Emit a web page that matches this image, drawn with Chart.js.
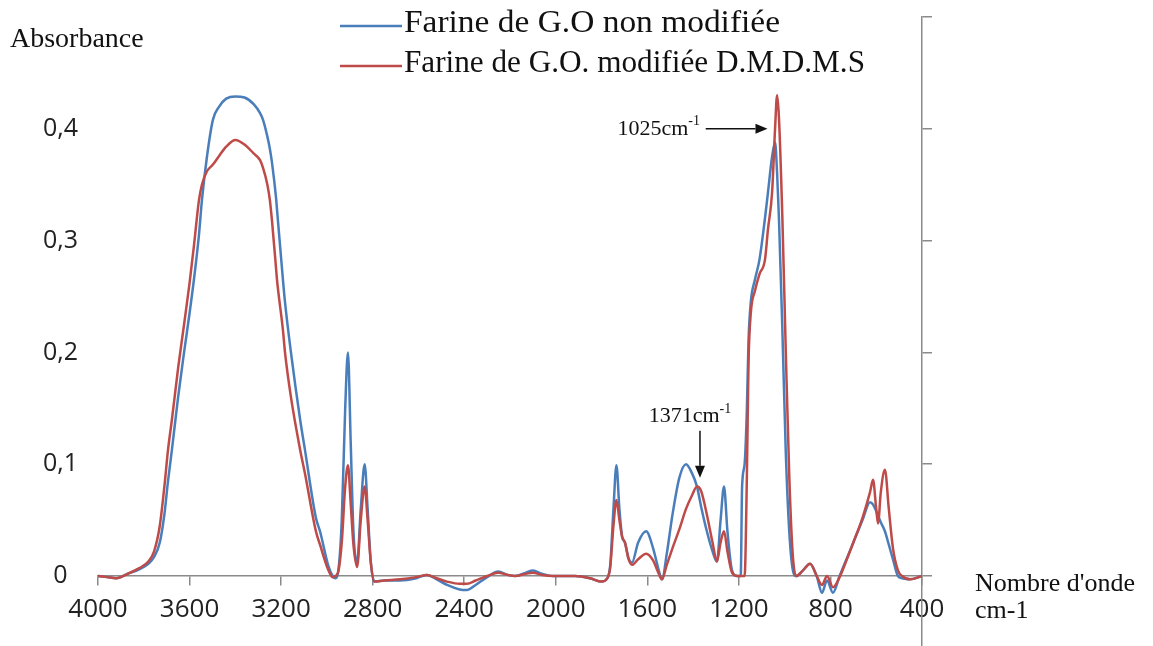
<!DOCTYPE html>
<html><head><meta charset="utf-8">
<script src="https://cdn.jsdelivr.net/npm/chart.js@4/dist/chart.umd.min.js"></script>
<style>html,body{margin:0;padding:0;background:#fff;overflow:hidden}#wrap{width:1153px;height:646px;position:relative}</style>
</head><body><div id="wrap"><canvas id="c" width="1153" height="646"></canvas></div>
<script>
const seriesLabels = ['Farine de G.O non modifiée', 'Farine de G.O. modifiée D.M.D.M.S'];
const seriesColors = ['#4a7ebb', '#be4b48'];
const xTicks = [4000, 3600, 3200, 2800, 2400, 2000, 1600, 1200, 800, 400];
const yTicks = [0, 0.1, 0.2, 0.3, 0.4, 0.5];
const wavenumbers = [4000,3960,3920,3870,3820,3780,3755,3730,3710,3694,3677,3650,3624,3600,3581,3559,3546,3524,3498,3470,3440,3400,3360,3320,3292,3279,3260,3249,3240,3222,3218,3192,3183,3157,3117,3096,3048,3030,2995,2975,2963,2950,2935,2920,2908,2896,2884,2868,2852,2835,2822,2808,2792,2750,2680,2610,2563,2520,2475,2420,2388,2350,2300,2252,2210,2178,2130,2100,2060,2012,1916,1850,1800,1775,1762,1748,1735,1722,1710,1698,1682,1667,1640,1605,1575,1550,1536,1515,1490,1460,1431,1405,1383,1365,1340,1315,1296,1280,1265,1250,1230,1208,1192,1186,1175,1165,1158,1148,1130,1110,1086,1073,1055,1042,1033,1025,1010,995,980,965,950,920,889,860,837,815,789,760,730,700,660,627,614,600,592,580,562,545,527,505,487,452,400];
const absNonModifiee = [0.000,-0.001,-0.002,0.002,0.006,0.011,0.017,0.030,0.055,0.085,0.113,0.160,0.200,0.235,0.265,0.305,0.336,0.375,0.408,0.420,0.427,0.429,0.428,0.422,0.414,0.408,0.393,0.382,0.370,0.338,0.328,0.265,0.245,0.200,0.140,0.113,0.052,0.040,0.010,0.000,-0.002,0.005,0.050,0.150,0.200,0.120,0.040,0.012,0.060,0.100,0.060,0.012,-0.005,-0.004,-0.004,-0.002,0.001,-0.003,-0.008,-0.012,-0.0125,-0.008,-0.001,0.004,0.001,0.000,0.003,0.005,0.002,0.000,0.000,-0.002,-0.005,-0.002,0.010,0.060,0.099,0.060,0.035,0.030,0.016,0.012,0.030,0.040,0.025,0.005,-0.003,0.020,0.055,0.088,0.100,0.092,0.080,0.062,0.040,0.022,0.013,0.050,0.080,0.040,0.005,0.000,0.000,0.080,0.100,0.150,0.210,0.245,0.265,0.283,0.320,0.343,0.375,0.388,0.360,0.320,0.220,0.110,0.040,0.006,0.000,0.005,0.011,0.000,-0.015,-0.004,-0.015,0.000,0.015,0.030,0.050,0.066,0.064,0.058,0.054,0.048,0.040,0.028,0.015,0.000,-0.002,-0.003,0.000];
const absModifiee = [0.000,-0.001,-0.002,0.002,0.007,0.013,0.022,0.045,0.080,0.113,0.140,0.186,0.225,0.262,0.295,0.336,0.350,0.362,0.368,0.376,0.384,0.390,0.386,0.378,0.372,0.365,0.350,0.336,0.318,0.275,0.265,0.220,0.200,0.160,0.113,0.092,0.040,0.028,0.006,-0.001,0.000,0.004,0.030,0.080,0.099,0.065,0.028,0.008,0.050,0.080,0.050,0.012,-0.005,-0.004,-0.003,-0.001,0.001,-0.002,-0.005,-0.007,-0.007,-0.004,0.000,0.003,0.001,0.000,0.002,0.003,0.001,0.000,0.000,-0.002,-0.005,-0.002,0.008,0.045,0.068,0.050,0.035,0.030,0.015,0.010,0.015,0.020,0.014,0.002,-0.003,0.010,0.025,0.042,0.060,0.072,0.080,0.076,0.055,0.030,0.013,0.030,0.040,0.022,0.003,0.000,0.000,0.000,0.000,0.090,0.190,0.235,0.255,0.270,0.283,0.310,0.343,0.400,0.430,0.410,0.320,0.200,0.090,0.020,0.000,0.005,0.011,0.000,-0.008,0.000,-0.010,-0.001,0.014,0.030,0.052,0.075,0.086,0.060,0.047,0.075,0.095,0.060,0.025,0.005,0.000,-0.003,0.000];

const yMin = -0.0626, yMax = 0.5;
const toPts = arr => wavenumbers.map((w, i) => ({x: w, y: arr[i]}));

const textPlugin = {
  id: 'texts',
  afterDraw(chart) {
    const ctx = chart.ctx;
    const xs = chart.scales.x, ys = chart.scales.y;
    ctx.save();
    ctx.fillStyle = '#111';
    ctx.textBaseline = 'middle';
    ctx.textAlign = 'left';
    ctx.font = '28px "Liberation Serif"';
    ctx.fillText('Absorbance', 10, 40);
    const legY = [24, 64];
    const legW = [376, 461];
    chart.data.datasets.forEach((ds, i) => {
      ctx.strokeStyle = ds.borderColor;
      ctx.lineWidth = 2.5;
      ctx.beginPath(); ctx.moveTo(340, legY[i] + 2); ctx.lineTo(402, legY[i] + 2); ctx.stroke();
      ctx.fillStyle = '#111';
      ctx.font = '31px "Liberation Serif"';
      const w = ctx.measureText(ds.label).width;
      ctx.save();
      ctx.translate(404, legY[i]);
      ctx.scale(legW[i] / w, 1);
      ctx.fillText(ds.label, 0, 0);
      ctx.restore();
    });
    ctx.font = '26px "Liberation Serif"';
    ctx.fillText("Nombre d'onde", 975, 584);
    ctx.fillText('cm-1', 975, 611);
    const drawLabel = (txt, xRight, y, center) => {
      ctx.font = '22px "Liberation Serif"';
      const w1 = ctx.measureText(txt).width;
      ctx.font = '14px "Liberation Serif"';
      const w2 = ctx.measureText('-1').width;
      const x0 = center ? xRight - (w1 + w2) / 2 : xRight - (w1 + w2);
      ctx.font = '22px "Liberation Serif"';
      ctx.fillText(txt, x0, y);
      ctx.font = '14px "Liberation Serif"';
      ctx.fillText('-1', x0 + w1, y - 7);
    };
    const arrow = (x1, y1, x2, y2) => {
      ctx.strokeStyle = '#111'; ctx.fillStyle = '#111'; ctx.lineWidth = 1.5;
      const a = Math.atan2(y2 - y1, x2 - x1), L = 12, H = 5;
      const bx = x2 - L * Math.cos(a), by = y2 - L * Math.sin(a);
      ctx.beginPath(); ctx.moveTo(x1, y1); ctx.lineTo(bx, by); ctx.stroke();
      ctx.beginPath(); ctx.moveTo(x2, y2);
      ctx.lineTo(bx + H * Math.sin(a), by - H * Math.cos(a));
      ctx.lineTo(bx - H * Math.sin(a), by + H * Math.cos(a));
      ctx.closePath(); ctx.fill();
    };
    ctx.fillStyle = '#111';
    const ay = ys.getPixelForValue(0.4);
    drawLabel('1025cm', 700, ay, false);
    arrow(xs.getPixelForValue(1345), ay, xs.getPixelForValue(1075), ay);
    const ax = xs.getPixelForValue(1370);
    ctx.fillStyle = '#111';
    drawLabel('1371cm', ax - 10, ys.getPixelForValue(0.143), true);
    arrow(ax, ys.getPixelForValue(0.130), ax, ys.getPixelForValue(0.088));
    ctx.restore();
  }
};

new Chart(document.getElementById('c'), {
  type: 'line',
  data: {
    datasets: [
      {label: seriesLabels[0], data: toPts(absNonModifiee), borderColor: seriesColors[0], borderWidth: 2.5, pointRadius: 0, cubicInterpolationMode: 'monotone', fill: false, order: 1, yAxisID: 'y'},
      {label: seriesLabels[1], data: toPts(absModifiee), borderColor: seriesColors[1], borderWidth: 2.5, pointRadius: 0, cubicInterpolationMode: 'monotone', fill: false, order: 0, yAxisID: 'y'}
    ]
  },
  options: {
    responsive: false, animation: false, devicePixelRatio: 1,
    layout: {padding: {top: 17, left: 0, right: 0, bottom: 0}},
    plugins: {legend: {display: false}, tooltip: {enabled: false}},
    scales: {
      x: {
        type: 'linear', reverse: true, min: 400, max: 4000, position: {y: 0},
        afterBuildTicks: a => { a.ticks = xTicks.map(v => ({value: v})); },
        afterFit: s => { s.height = 0; },
        grid: {drawOnChartArea: false, drawTicks: true, tickLength: 9, color: '#8a8a8a', lineWidth: 1.5},
        border: {display: true, color: '#8a8a8a', width: 1.5},
        ticks: {font: {family: 'Open Sans', size: 26}, color: '#222', padding: 9, maxRotation: 0, autoSkip: false, callback: v => String(v)}
      },
      y: {
        type: 'linear', position: 'left', min: yMin, max: yMax,
        afterBuildTicks: a => { a.ticks = yTicks.map(v => ({value: v})); },
        afterFit: s => { s.width = 98; s.paddingTop = 0; s.paddingBottom = 0; },
        grid: {display: false},
        border: {display: false},
        ticks: {font: {family: 'Open Sans', size: 25}, color: '#222', crossAlign: 'center', padding: 12,
          callback: v => v > 0.45 ? null : (Math.round(v * 10) / 10).toString().replace('.', ',')}
      },
      y2: {
        type: 'linear', position: 'right', min: yMin, max: yMax,
        afterBuildTicks: a => { a.ticks = yTicks.map(v => ({value: v})); },
        afterFit: s => { s.width = 1153 - 922; s.paddingTop = 0; s.paddingBottom = 0; },
        grid: {drawOnChartArea: false, drawTicks: true, tickLength: 10, color: '#8a8a8a', lineWidth: 1.5},
        border: {display: true, color: '#8a8a8a', width: 1.5},
        ticks: {display: false}
      }
    }
  },
  plugins: [textPlugin]
});
</script></body></html>
